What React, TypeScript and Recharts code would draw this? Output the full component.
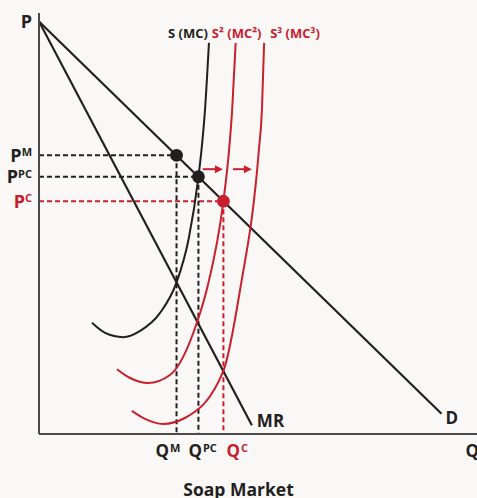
import { LineChart, Line, XAxis, YAxis, ReferenceLine, ReferenceDot } from 'recharts';

const INK = '#231f20';
const RED = '#c8202f';
const AXIS = '#4a4a4a';

// demand and marginal revenue (straight lines)
const demand = [
  { q: 0, p: 98 },
  { q: 91.9, p: 4.8 },
];
const marginalRevenue = [
  { q: 0, p: 98 },
  { q: 48.6, p: 2.1 },
];

// supply / marginal cost curves
const supply1 = [
  { q: 12.1, p: 26.4 },
  { q: 15.1, p: 24.0 },
  { q: 19.2, p: 23.0 },
  { q: 23.1, p: 24.5 },
  { q: 27.6, p: 28.7 },
  { q: 31.4, p: 36.0 },
  { q: 34.2, p: 46.5 },
  { q: 36.4, p: 61.1 },
  { q: 37.1, p: 67.5 },
  { q: 37.9, p: 77.0 },
  { q: 38.8, p: 92.9 },
];
const supply2 = [
  { q: 17.8, p: 15.4 },
  { q: 20.8, p: 13.3 },
  { q: 24.9, p: 12.1 },
  { q: 29.9, p: 14.0 },
  { q: 36.1, p: 26.6 },
  { q: 38.4, p: 34.7 },
  { q: 42.1, p: 55.3 },
  { q: 43.4, p: 67.5 },
  { q: 44.1, p: 77.0 },
  { q: 44.9, p: 92.9 },
];
const supply3 = [
  { q: 21.2, p: 5.5 },
  { q: 24.2, p: 3.6 },
  { q: 28.3, p: 2.4 },
  { q: 33.3, p: 3.8 },
  { q: 42.1, p: 15.0 },
  { q: 45.9, p: 34.2 },
  { q: 50.2, p: 67.5 },
  { q: 50.9, p: 77.0 },
  { q: 51.4, p: 92.9 },
];

// outcomes: monopoly, partial competition, competition
const outcomes = [
  { q: 31.4, p: 66.2, color: INK },
  { q: 36.4, p: 61.1, color: INK },
  { q: 42.1, p: 55.3, color: RED },
];

const shiftArrows = [
  { from: 37.4, to: 42.0, p: 62.9 },
  { from: 44.3, to: 48.6, p: 62.9 },
];

const priceTicks = [
  { value: 98, base: 'P', sup: '', color: INK },
  { value: 66.2, base: 'P', sup: 'M', color: INK },
  { value: 61.1, base: 'P', sup: 'PC', color: INK },
  { value: 55.3, base: 'P', sup: 'C', color: RED },
];
// dx: where each label starts, relative to its tick
const quantityTicks = [
  { value: 31.4, base: 'Q', sup: 'M', color: INK, dx: -21 },
  { value: 36.4, base: 'Q', sup: 'PC', color: INK, dx: -10 },
  { value: 42.1, base: 'Q', sup: 'C', color: RED, dx: 3 },
  { value: 99, base: 'Q', sup: '', color: INK, dx: -7 },
];

const curveLabels = [
  { q: 38.8, p: 92.9, text: 'S (MC)', color: INK, anchor: 'end', dx: -1 },
  { q: 44.9, p: 92.9, text: 'S² (MC²)', color: RED, anchor: 'middle', dx: 1 },
  { q: 51.4, p: 92.9, text: 'S³ (MC³)', color: RED, anchor: 'start', dx: 6 },
];

const FONT = '"Open Sans", sans-serif';

const PriceTick = ({ x, y, payload }: any) => {
  const t = priceTicks.find((d) => d.value === payload.value);
  if (!t) return null;
  return (
    <text x={x} y={y + 6.5} textAnchor="end" fill={t.color} fontFamily={FONT} fontWeight={700} fontSize={18}>
      {t.base}
      {t.sup && (
        <tspan dy={-5.5} fontSize={11}>
          {t.sup}
        </tspan>
      )}
    </text>
  );
};

const QuantityTick = ({ x, y, payload }: any) => {
  const t = quantityTicks.find((d) => d.value === payload.value);
  if (!t) return null;
  return (
    <text x={x + t.dx} y={y + 17} textAnchor="start" fill={t.color} fontFamily={FONT} fontWeight={700} fontSize={17}>
      {t.base}
      {t.sup && (
        <tspan dx={1} dy={-5} fontSize={11}>
          {t.sup}
        </tspan>
      )}
    </text>
  );
};

const ArrowShape = (props: any) => {
  const { x1, y1, x2, y2 } = props;
  const head = 8;
  return (
    <g>
      <line x1={x1} y1={y1} x2={x2 - head + 1} y2={y2} stroke={RED} strokeWidth={2} />
      <polygon points={`${x2},${y2} ${x2 - head},${y2 - 4} ${x2 - head},${y2 + 4}`} fill={RED} />
    </g>
  );
};

const textShape = (text: string, color: string, anchor: string, dx: number, dy: number, size: number) =>
  (props: any) => (
    <text
      x={props.cx + dx}
      y={props.cy + dy}
      textAnchor={anchor as any}
      fill={color}
      fontFamily={FONT}
      fontWeight={700}
      fontSize={size}
    >
      {text}
    </text>
  );

export default function App() {
  return (
    <div style={{ position: 'absolute', left: 0, top: 0, width: 477, height: 498, background: '#f9f8f6' }}>
      <LineChart width={477} height={498} margin={{ top: 13, right: 0, bottom: 0, left: 0 }}>
        <XAxis
          type="number"
          dataKey="q"
          domain={[0, 100]}
          ticks={quantityTicks.map((t) => t.value)}
          interval={0}
          tickLine={false}
          tickSize={0}
          tickMargin={6}
          tick={<QuantityTick />}
          height={64}
          axisLine={{ stroke: AXIS, strokeWidth: 2 }}
          allowDataOverflow
        />
        <YAxis
          type="number"
          dataKey="p"
          domain={[0, 100]}
          ticks={priceTicks.map((t) => t.value)}
          interval={0}
          tickLine={false}
          tickSize={0}
          tickMargin={7}
          tick={<PriceTick />}
          width={39}
          axisLine={{ stroke: AXIS, strokeWidth: 2 }}
          allowDataOverflow
        />

        {outcomes.map((o, i) => (
          <ReferenceLine
            key={`h-${i}`}
            segment={[
              { x: 0, y: o.p },
              { x: o.q, y: o.p },
            ]}
            stroke={o.color}
            strokeWidth={2}
            strokeDasharray="5 3"
          />
        ))}
        {outcomes.map((o, i) => (
          <ReferenceLine
            key={`v-${i}`}
            segment={[
              { x: o.q, y: o.p },
              { x: o.q, y: 0 },
            ]}
            stroke={o.color}
            strokeWidth={2}
            strokeDasharray="5 3"
          />
        ))}

        <Line data={demand} dataKey="p" type="linear" stroke={INK} strokeWidth={2.2} dot={false} activeDot={false} isAnimationActive={false} />
        <Line data={marginalRevenue} dataKey="p" type="linear" stroke={INK} strokeWidth={2.2} dot={false} activeDot={false} isAnimationActive={false} />
        <Line data={supply1} dataKey="p" type="monotone" stroke={INK} strokeWidth={2} dot={false} activeDot={false} isAnimationActive={false} />
        <Line data={supply2} dataKey="p" type="monotone" stroke={RED} strokeWidth={2} dot={false} activeDot={false} isAnimationActive={false} />
        <Line data={supply3} dataKey="p" type="monotone" stroke={RED} strokeWidth={2} dot={false} activeDot={false} isAnimationActive={false} />

        {shiftArrows.map((a, i) => (
          <ReferenceLine
            key={`a-${i}`}
            segment={[
              { x: a.from, y: a.p },
              { x: a.to, y: a.p },
            ]}
            shape={<ArrowShape />}
          />
        ))}

        {outcomes.map((o, i) => (
          <ReferenceDot key={`d-${i}`} x={o.q} y={o.p} r={6.4} fill={o.color} stroke="none" />
        ))}

        {curveLabels.map((c, i) => (
          <ReferenceDot
            key={`l-${i}`}
            x={c.q}
            y={c.p}
            r={1}
            shape={textShape(c.text, c.color, c.anchor, c.dx, -5, 13)}
          />
        ))}
        <ReferenceDot
          x={marginalRevenue[1].q}
          y={marginalRevenue[1].p}
          r={1}
          shape={textShape('MR', INK, 'start', 5, 2, 17)}
        />
        <ReferenceDot
          x={demand[1].q}
          y={demand[1].p}
          r={1}
          shape={textShape('D', INK, 'start', 4, 10, 17)}
        />
      </LineChart>
      <div
        style={{
          position: 'absolute',
          left: 0,
          top: 479,
          width: 477,
          textAlign: 'center',
          fontFamily: FONT,
          fontWeight: 700,
          fontSize: 17.5,
          lineHeight: '20px',
          color: INK,
        }}
      >
        Soap Market
      </div>
    </div>
  );
}
